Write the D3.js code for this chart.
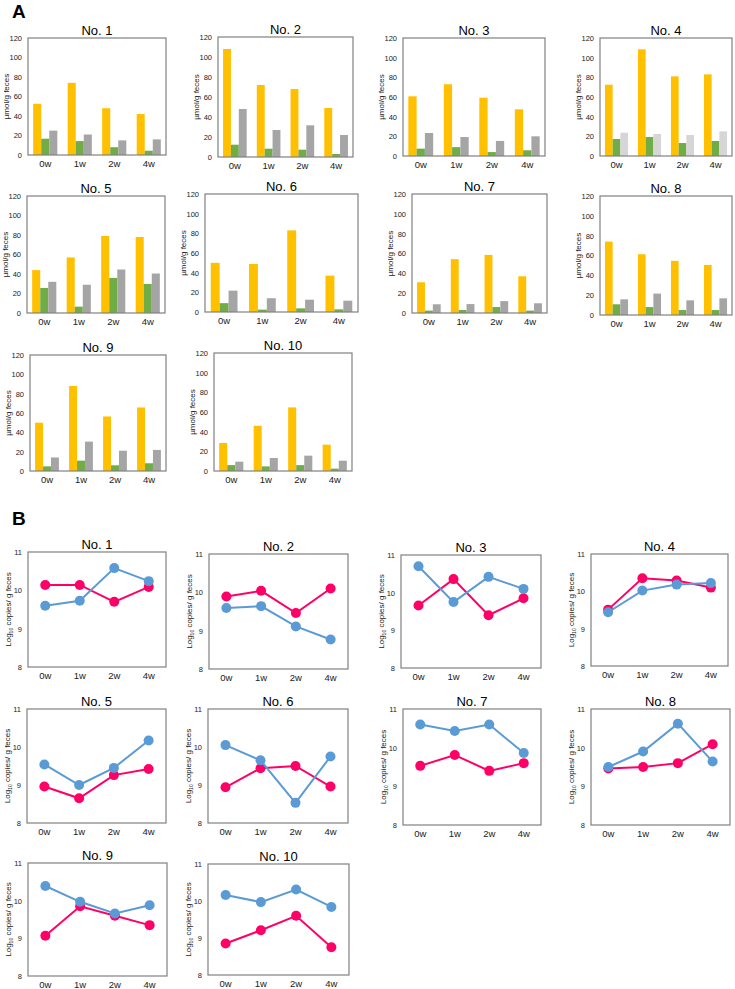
<!DOCTYPE html>
<html>
<head>
<meta charset="utf-8">
<script src="https://cdn.jsdelivr.net/npm/d3@7"></script>
<style>
  body { margin: 0; background: #fff; }
  text { font-family: "Liberation Sans", Arial, sans-serif; fill: #222; }
</style>
</head>
<body>
<svg width="735" height="989"></svg>
<script>
// categories
let weeks = ["0w", "1w", "2w", "4w"];
let subjects = ["No. 1", "No. 2", "No. 3", "No. 4", "No. 5", "No. 6", "No. 7", "No. 8", "No. 9", "No. 10"];

// panel A, umol/g feces
let orangeVals = [
  [52.5, 74, 48, 42],
  [108, 72, 68, 49],
  [60.7, 73, 59.3, 47.5],
  [72.5, 108.5, 81, 83],
  [44, 57, 79, 78],
  [50, 48.8, 83, 37],
  [31, 54.3, 58.6, 37],
  [74, 61.3, 54.6, 50.5],
  [50, 88, 56.4, 65.7],
  [28.5, 46, 64.7, 26.8]
];
let greenVals = [
  [16.7, 14.3, 8, 4.4],
  [12.3, 8.3, 7.3, 3],
  [7.5, 9, 4, 5.8],
  [17.3, 19.3, 13.2, 15.3],
  [25.7, 6.5, 36, 29.8],
  [9, 2.4, 3.7, 2.7],
  [2.4, 3, 6, 2.4],
  [10.8, 8, 5, 5],
  [4.8, 10.7, 5.9, 8],
  [6, 4.7, 6, 2.4]
];
let grayVals = [
  [25, 21, 15, 16],
  [48, 27, 31.7, 22],
  [23.4, 19.3, 15.3, 20],
  [23.7, 22.4, 21.4, 25],
  [32, 29, 44.6, 40.5],
  [21.7, 14, 12.5, 11.5],
  [8.8, 9, 12, 9.8],
  [15.8, 21.6, 14.8, 16.8],
  [14, 30.4, 21, 21.8],
  [9.5, 13.2, 15.6, 10.5]
];
let aTicks = [0, 20, 40, 60, 80, 100, 120];

// panel B, log10 copies / g feces
let redVals = [
  [10.14, 10.14, 9.70, 10.09],
  [9.89, 10.04, 9.46, 10.1],
  [9.66, 10.36, 9.40, 9.85],
  [9.51, 10.35, 10.29, 10.1],
  [8.96, 8.65, 9.26, 9.42],
  [8.94, 9.44, 9.5, 8.96],
  [9.53, 9.81, 9.4, 9.6],
  [9.46, 9.5, 9.6, 10.09],
  [9.07, 9.85, 9.6, 9.35],
  [8.85, 9.21, 9.6, 8.75]
];
let blueVals = [
  [9.6, 9.73, 10.58, 10.24],
  [9.59, 9.64, 9.11, 8.77],
  [10.70, 9.75, 10.42, 10.1],
  [9.44, 10.02, 10.18, 10.22],
  [9.54, 9.0, 9.45, 10.17],
  [10.05, 9.65, 8.53, 9.75],
  [10.6, 10.43, 10.6, 9.86],
  [9.5, 9.9, 10.62, 9.64],
  [10.39, 9.97, 9.66, 9.88],
  [10.16, 9.97, 10.31, 9.84]
];
let bTicks = [8, 9, 10, 11];

// plot boxes [left, top, width, height]
let aBoxes = [
  [28, 38, 138, 117], [218, 37, 135, 120], [403, 38, 142, 118], [600, 38, 132, 118],
  [27, 196, 138, 117], [205, 194, 153, 118], [412, 194, 135, 119], [600, 196, 132, 119],
  [30, 355, 136, 116], [214, 353, 138, 118]
];
let bBoxes = [
  [28, 552, 138, 115], [209, 554, 139, 115], [401, 555, 140, 113], [591, 554, 137, 112],
  [27, 709, 139, 114], [208, 709, 140, 114], [403, 709, 138, 116], [591, 709, 139, 116],
  [28, 863, 139, 113], [208, 864, 141, 111]
];

let barColors = ["#ffc000", "#70ad47", "#a5a5a5"];
let lineColors = { red: "#ff0066", blue: "#5b9bd5" };

let svg = d3.select("svg");

svg.append("text").attr("x", 12).attr("y", 18)
  .style("font-size", "19px").style("font-weight", "bold").style("fill", "#000").text("A");
svg.append("text").attr("x", 12).attr("y", 525)
  .style("font-size", "19px").style("font-weight", "bold").style("fill", "#000").text("B");

function frame(g, w, h, title) {
  g.append("rect").attr("width", w).attr("height", h)
    .attr("fill", "none").attr("stroke", "#808080").attr("stroke-width", 1.2);
  g.append("text").attr("x", w / 2).attr("y", -3)
    .attr("text-anchor", "middle").style("font-size", "13px").style("fill", "#000").text(title);
}

function axes(g, x, y, h, ticks) {
  let yAxis = g.append("g").call(d3.axisLeft(y).tickValues(ticks).tickFormat(d3.format("d")).tickSize(0).tickPadding(6));
  yAxis.select(".domain").remove();
  yAxis.selectAll("text").style("font-size", "7.5px").style("font-family", "'Liberation Sans', Arial, sans-serif");

  let xAxis = g.append("g").attr("transform", "translate(0," + h + ")")
    .call(d3.axisBottom(x).tickSize(0).tickPadding(5));
  xAxis.select(".domain").remove();
  xAxis.selectAll("text").style("font-size", "9.5px").style("font-family", "'Liberation Sans', Arial, sans-serif");
}

// panel A
subjects.forEach((name, i) => {
  let [left, top, w, h] = aBoxes[i];
  let g = svg.append("g").attr("transform", "translate(" + left + "," + top + ")");

  let x = d3.scaleBand().domain(weeks).range([0, w]).paddingInner(0.3).paddingOuter(0.15);
  let y = d3.scaleLinear().domain([0, 120]).range([h, 0]);
  let x1 = d3.scaleBand().domain([0, 1, 2]).range([0, x.bandwidth()]);

  let rows = weeks.map((wk, j) => ({ wk: wk, vals: [orangeVals[i][j], greenVals[i][j], grayVals[i][j]] }));
  let colors = i === 3 ? ["#ffc000", "#70ad47", "#d6d6d6"] : barColors;

  g.selectAll(".grp").data(rows).enter().append("g")
    .attr("transform", d => "translate(" + x(d.wk) + ",0)")
    .selectAll("rect").data(d => d.vals).enter().append("rect")
    .attr("x", (d, k) => x1(k))
    .attr("width", x1.bandwidth())
    .attr("y", d => y(d))
    .attr("height", d => h - y(d))
    .attr("fill", (d, k) => colors[k]);

  frame(g, w, h, name);
  axes(g, x, y, h, aTicks);

  g.append("text").attr("transform", "translate(-19," + (h / 2) + ") rotate(-90)")
    .attr("text-anchor", "middle").style("font-size", "8px").text("µmol/g feces");
});

// panel B
subjects.forEach((name, i) => {
  let [left, top, w, h] = bBoxes[i];
  let g = svg.append("g").attr("transform", "translate(" + left + "," + top + ")");

  let x = d3.scaleBand().domain(weeks).range([0, w]);
  let y = d3.scaleLinear().domain([8, 11]).range([h, 0]);
  let cx = d => x(d) + x.bandwidth() / 2;

  frame(g, w, h, name);
  axes(g, x, y, h, bTicks);

  let line = d3.line().x(d => cx(d.wk)).y(d => y(d.v));
  [["red", redVals[i]], ["blue", blueVals[i]]].forEach(([key, vals]) => {
    let pts = weeks.map((wk, j) => ({ wk: wk, v: vals[j] }));
    g.append("path").datum(pts).attr("d", line)
      .attr("fill", "none").attr("stroke", lineColors[key]).attr("stroke-width", 2);
    g.selectAll(".pt-" + key).data(pts).enter().append("circle")
      .attr("cx", d => cx(d.wk)).attr("cy", d => y(d.v)).attr("r", 5)
      .attr("fill", lineColors[key]);
  });

  let lab = g.append("text").attr("transform", "translate(-17," + (h / 2) + ") rotate(-90)")
    .attr("text-anchor", "middle").style("font-size", "8px");
  lab.append("tspan").text("Log");
  lab.append("tspan").attr("dy", 2).style("font-size", "5px").text("10");
  lab.append("tspan").attr("dy", -2).text(" copies/ g feces");
});
</script>
</body>
</html>
